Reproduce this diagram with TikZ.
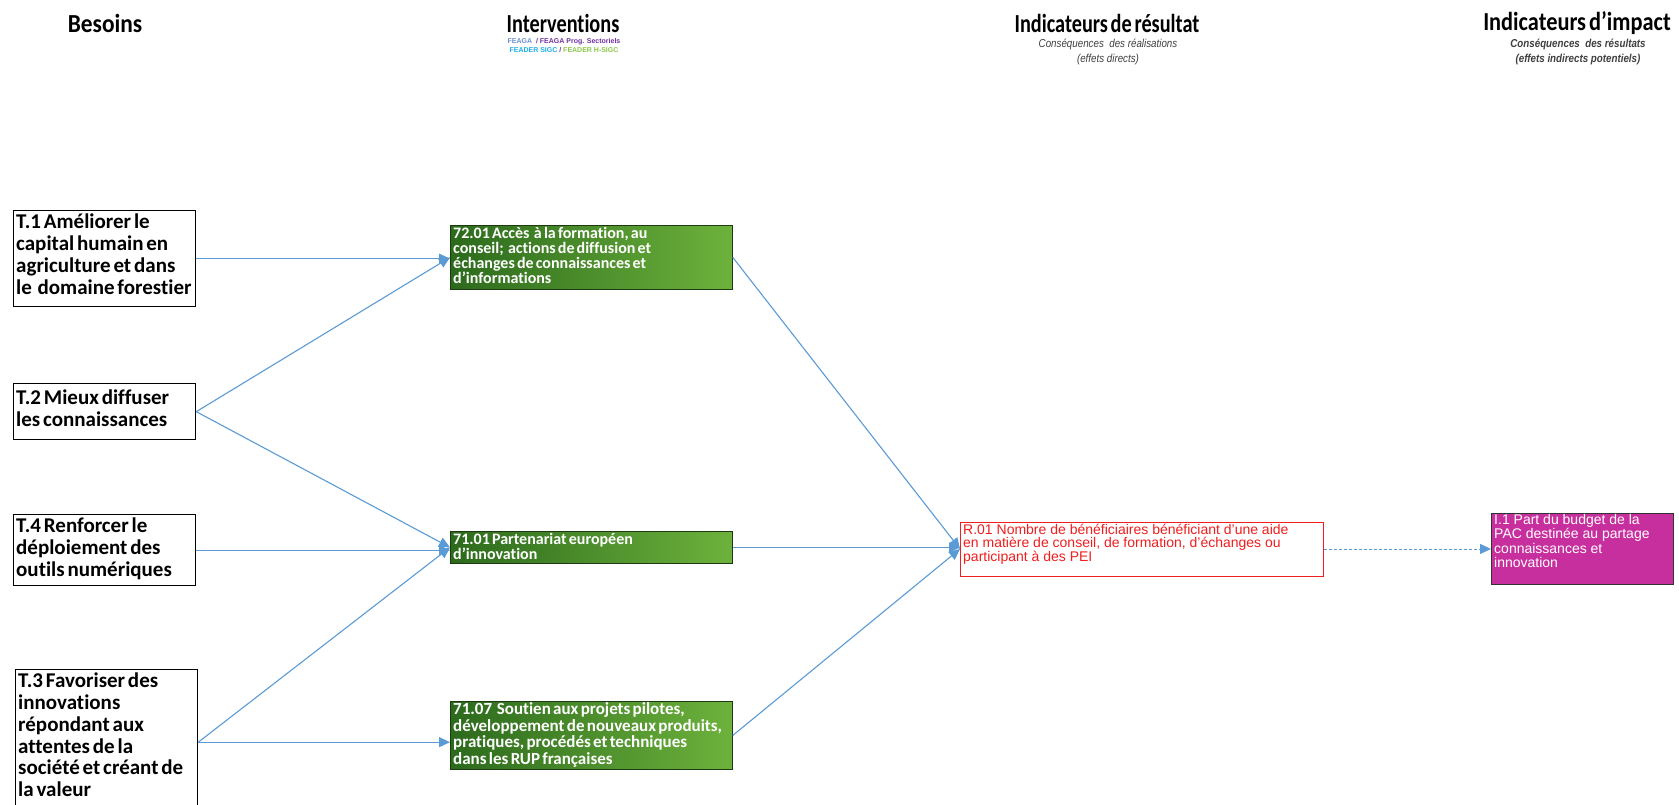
\documentclass[tikz,border=0pt]{standalone}
\usepackage{graphicx}
\usepackage{fontspec}
\setmainfont{Liberation Sans}
\newfontfamily\calib[Ligatures=NoCommon]{Carlito}
\newfontfamily\calibtight[WordSpace=0.6,Ligatures=NoCommon]{Carlito}
\usetikzlibrary{arrows.meta}
\definecolor{linkblue}{HTML}{5B9BD5}
\definecolor{greenL}{HTML}{2C6A1C}
\definecolor{greenR}{HTML}{6DB23C}
\definecolor{greenEdge}{HTML}{1E3A12}
\definecolor{impactpink}{HTML}{C82F9E}
\definecolor{resred}{HTML}{F01E1E}
\definecolor{leg1}{HTML}{6A8FD0}
\definecolor{leg2}{HTML}{7030A0}
\definecolor{leg3}{HTML}{1EAEE8}
\definecolor{leg4}{HTML}{8CC84B}
\tikzset{
  header/.style={font=\calib\bfseries\fontsize{26}{28}\selectfont, inner sep=0pt},
  subhead/.style={font=\itshape\fontsize{11.5}{15}\selectfont, align=center, inner sep=0pt, text=black!75},
  txt/.style={anchor=north west, align=left, inner sep=0pt},
  needbox/.style={draw=black, line width=1.3pt, fill=white, anchor=north west,
    minimum width=182pt},
  needtxt/.style={txt, font=\calibtight\bfseries\fontsize{21}{21.7}\selectfont},
  actionbox/.style={draw=greenEdge, line width=0.8pt, left color=greenL, right color=greenR,
    anchor=north west, minimum width=282pt},
  actiontxt/.style={txt, text=white, font=\calib\bfseries\fontsize{16}{15}\selectfont},
  resultbox/.style={draw=resred, line width=0.9pt, fill=white, anchor=north west},
  resulttxt/.style={txt, text=resred, font=\fontsize{14}{13.6}\selectfont},
  impactbox/.style={draw=black!80, line width=0.9pt, fill=impactpink, anchor=north west},
  impacttxt/.style={txt, text=white, font=\fontsize{14}{14.4}\selectfont},
  link/.style={draw=linkblue, line width=1.1pt, -{Triangle[length=11pt,width=10pt]}},
  dashlink/.style={draw=linkblue, line width=0.9pt, dash pattern=on 3pt off 2pt,
    -{Triangle[length=11pt,width=10pt]}}
}
\begin{document}
\begin{tikzpicture}[x=1pt,y=-1pt]
\useasboundingbox[fill=white] (0,0) rectangle (1679,804);
\clip (0,0) rectangle (1679,804);

% column headings
\node[header] (hBes) at (105,23.5) {\scalebox{0.9}[1]{Besoins}};
\node[header] (hInt) at (563,23.5) {\scalebox{0.78}[1]{Interventions}};
\node[inner sep=0pt, align=center, font=\bfseries\fontsize{7}{8.5}\selectfont] (hLeg) at (564,45.5)
  {\textcolor{leg1}{FEAGA}\ \ \textcolor{leg2}{/ FEAGA Prog. Sectoriels}\\
   \textcolor{leg3}{FEADER SIGC} \textcolor{leg2}{/} \textcolor{leg4}{FEADER H-SIGC}};
\node[header] (hRes) at (1107,23.5) {\scalebox{0.78}[1]{Indicateurs de résultat}};
\node[subhead] (sRes) at (1108,52) {\scalebox{0.85}[1]{Conséquences\ \ des réalisations}\\
  \scalebox{0.85}[1]{(effets directs)}};
\node[header] (hImp) at (1577,23.5) {\scalebox{0.86}[1]{Indicateurs d’impact}};
\node[subhead, font=\bfseries\itshape\fontsize{11.5}{15}\selectfont] (sImp) at (1578,52)
  {\scalebox{0.85}[1]{Conséquences\ \ des résultats}\\
   \scalebox{0.85}[1]{(effets indirects potentiels)}};

% needs
\node[needbox, minimum height=96pt] (t1) at (13,210) {};
\node[needtxt] (t1txt) at ([shift={(3,4)}]t1.north west)
  {T.1 Améliorer le\\capital humain en\\agriculture et dans\\le\ \ domaine forestier};
\node[needbox, minimum height=56pt] (t2) at (13,383) {};
\node[needtxt] (t2txt) at ([shift={(3,7)}]t2.north west)
  {T.2 Mieux diffuser\\les connaissances};
\node[needbox, minimum height=71pt] (t4) at (13,514) {};
\node[needtxt] (t4txt) at ([shift={(3,4)}]t4.north west)
  {T.4 Renforcer le\\déploiement des\\outils numériques};
\node[needbox, minimum height=145pt] (t3) at (15,669) {};
\node[needtxt] (t3txt) at ([shift={(3,4)}]t3.north west)
  {T.3 Favoriser des\\innovations\\répondant aux\\attentes de la\\société et créant de\\la valeur};

% interventions
\node[actionbox, minimum height=64pt] (i7201) at (450,225) {};
\node[actiontxt] (i7201txt) at ([shift={(3,2)}]i7201.north west)
  {72.01 Accès\ \ à la formation, au\\conseil;\ \ actions de diffusion et\\échanges de connaissances et\\d’informations};
\node[actionbox, minimum height=32pt] (i7101) at (450,531) {};
\node[actiontxt] (i7101txt) at ([shift={(3,2.5)}]i7101.north west)
  {71.01 Partenariat européen\\d’innovation};
\node[actionbox, minimum height=68pt] (i7107) at (450,701) {};
\node[actiontxt, font=\calib\bfseries\fontsize{17}{16.6}\selectfont] (i7107txt)
  at ([shift={(3,1.5)}]i7107.north west)
  {71.07\ \ Soutien aux projets pilotes,\\développement de nouveaux produits,\\pratiques, procédés et techniques\\dans les RUP françaises};

% result and impact indicators
\node[resultbox, minimum width=363pt, minimum height=54pt] (r01) at (960,521.5) {};
\node[resulttxt] (r01txt) at ([shift={(3,2)}]r01.north west)
  {R.01 Nombre de bénéficiaires bénéficiant d’une aide\\en matière de conseil, de formation, d’échanges ou\\participant à des PEI};
\node[impactbox, minimum width=182pt, minimum height=71pt] (i1) at (1491,513) {};
\node[impacttxt] (i1txt) at ([shift={(3,1)}]i1.north west)
  {I.1 Part du budget de la\\PAC destinée au partage\\connaissances et\\innovation};

% links
\draw[link] (t1.east) -- (t1.east -| i7201.west);
\draw[link] (t2.east) -- (i7201.west);
\draw[link] (t2.east) -- (i7101.west);
\draw[link] (t4.east) -- (t4.east -| i7101.west);
\draw[link] (t3.east) -- (i7101.west);
\draw[link] (t3.east) -- (t3.east -| i7107.west);
\draw[link] (i7201.east) -- (r01.west);
\draw[link] (i7101.east) -- (i7101.east -| r01.west);
\draw[link] (i7107.east) -- (r01.west);
\draw[dashlink] (r01.east) -- (r01.east -| i1.west);
\end{tikzpicture}
\end{document}
